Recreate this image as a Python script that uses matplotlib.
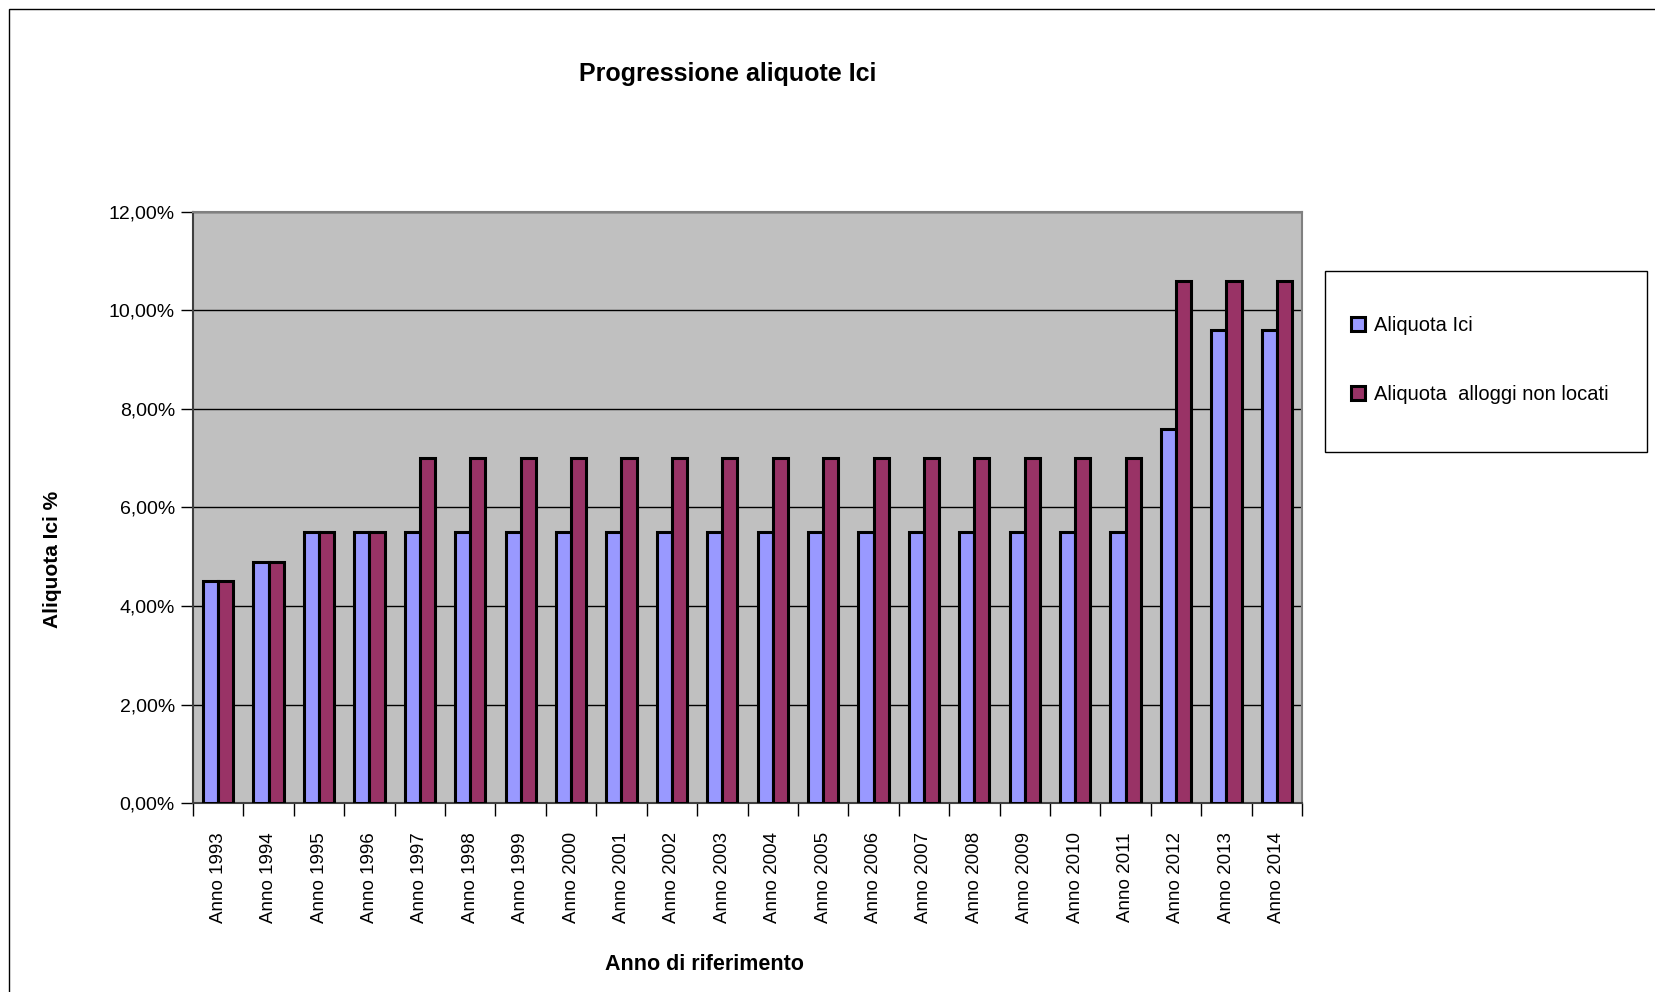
import numpy as np
import matplotlib.pyplot as plt
from matplotlib.patches import Rectangle
from matplotlib.ticker import FuncFormatter, FixedLocator

plt.rcParams['font.family'] = ['Liberation Sans', 'DejaVu Sans']

# Dati
anni = [f"Anno {a}" for a in range(1993, 2015)]
aliquota_ici = [4.5, 4.9, 5.5, 5.5, 5.5, 5.5, 5.5, 5.5, 5.5, 5.5, 5.5,
                5.5, 5.5, 5.5, 5.5, 5.5, 5.5, 5.5, 5.5, 7.6, 9.6, 9.6]
aliquota_non_locati = [4.5, 4.9, 5.5, 5.5, 7.0, 7.0, 7.0, 7.0, 7.0, 7.0, 7.0,
                       7.0, 7.0, 7.0, 7.0, 7.0, 7.0, 7.0, 7.0, 10.6, 10.6, 10.6]
y_ticks = [0, 2, 4, 6, 8, 10, 12]

W, H = 1655, 992
fig = plt.figure(figsize=(W / 100, H / 100), dpi=100)
ax = fig.add_axes([193 / W, 1 - 803 / H, (1302 - 193) / W, (803 - 212) / H])

x = np.arange(len(anni))
bw = 0.3
ax.bar(x - bw / 2, aliquota_ici, bw, color='#9999FF', edgecolor='black',
       linewidth=2.2, label='Aliquota Ici', zorder=3)
ax.bar(x + bw / 2, aliquota_non_locati, bw, color='#993366', edgecolor='black',
       linewidth=2.2, label='Aliquota  alloggi non locati', zorder=3)

ax.set_facecolor('#C0C0C0')
ax.set_xlim(-0.5, len(anni) - 0.5)
ax.set_ylim(0, 12)
ax.set_yticks(y_ticks)
ax.yaxis.set_major_formatter(FuncFormatter(lambda v, p: f"{v:.2f}%".replace('.', ',')))
ax.grid(axis='y', color='black', linewidth=1, zorder=0)

# etichette categorie al centro, tacche ai bordi
ax.set_xticks(x)
ax.set_xticklabels(anni, rotation=90, fontsize=13.5)
ax.tick_params(axis='x', length=0, pad=21)
ax.xaxis.set_minor_locator(FixedLocator(np.arange(-0.5, len(anni), 1)))
ax.tick_params(axis='x', which='minor', length=9, width=1, color='black')
ax.tick_params(axis='y', length=9, width=1, labelsize=14, pad=4)

for s in ['left', 'bottom']:
    ax.spines[s].set_color('#404040')
    ax.spines[s].set_linewidth(1.5)
for s in ['top', 'right']:
    ax.spines[s].set_color('#808080')
    ax.spines[s].set_linewidth(1.5)

fig.text(728 / W, 1 - 74 / H, 'Progressione aliquote Ici', ha='center', va='center',
         fontsize=18, fontweight='bold')
fig.text(704 / W, 1 - 965 / H, 'Anno di riferimento', ha='center', va='center',
         fontsize=15.5, fontweight='bold')
fig.text(53 / W, 1 - 559 / H, 'Aliquota Ici %', ha='center', va='center',
         rotation=90, fontsize=15, fontweight='bold')

# legenda: riquadro separato + voci senza cornice
fig.add_artist(Rectangle((1325 / W, 1 - 452 / H), (1647 - 1325) / W, (452 - 271) / H,
                         transform=fig.transFigure, facecolor='white', edgecolor='black',
                         linewidth=1, zorder=1))
leg = fig.legend(loc='upper left', bbox_to_anchor=(1351 / W, 1 - 316 / H),
                 frameon=False, fontsize=14.5, handlelength=0.7, handleheight=0.7,
                 handletextpad=0.45, labelspacing=2.5, borderpad=0, borderaxespad=0)
leg.set_zorder(2)

# bordo del grafico
fig.add_artist(Rectangle((9 / W, -0.1), 1.2, 1 - 9 / H + 0.1, transform=fig.transFigure,
                         fill=False, edgecolor='black', linewidth=1))

fig.savefig('out.png', dpi=100)
